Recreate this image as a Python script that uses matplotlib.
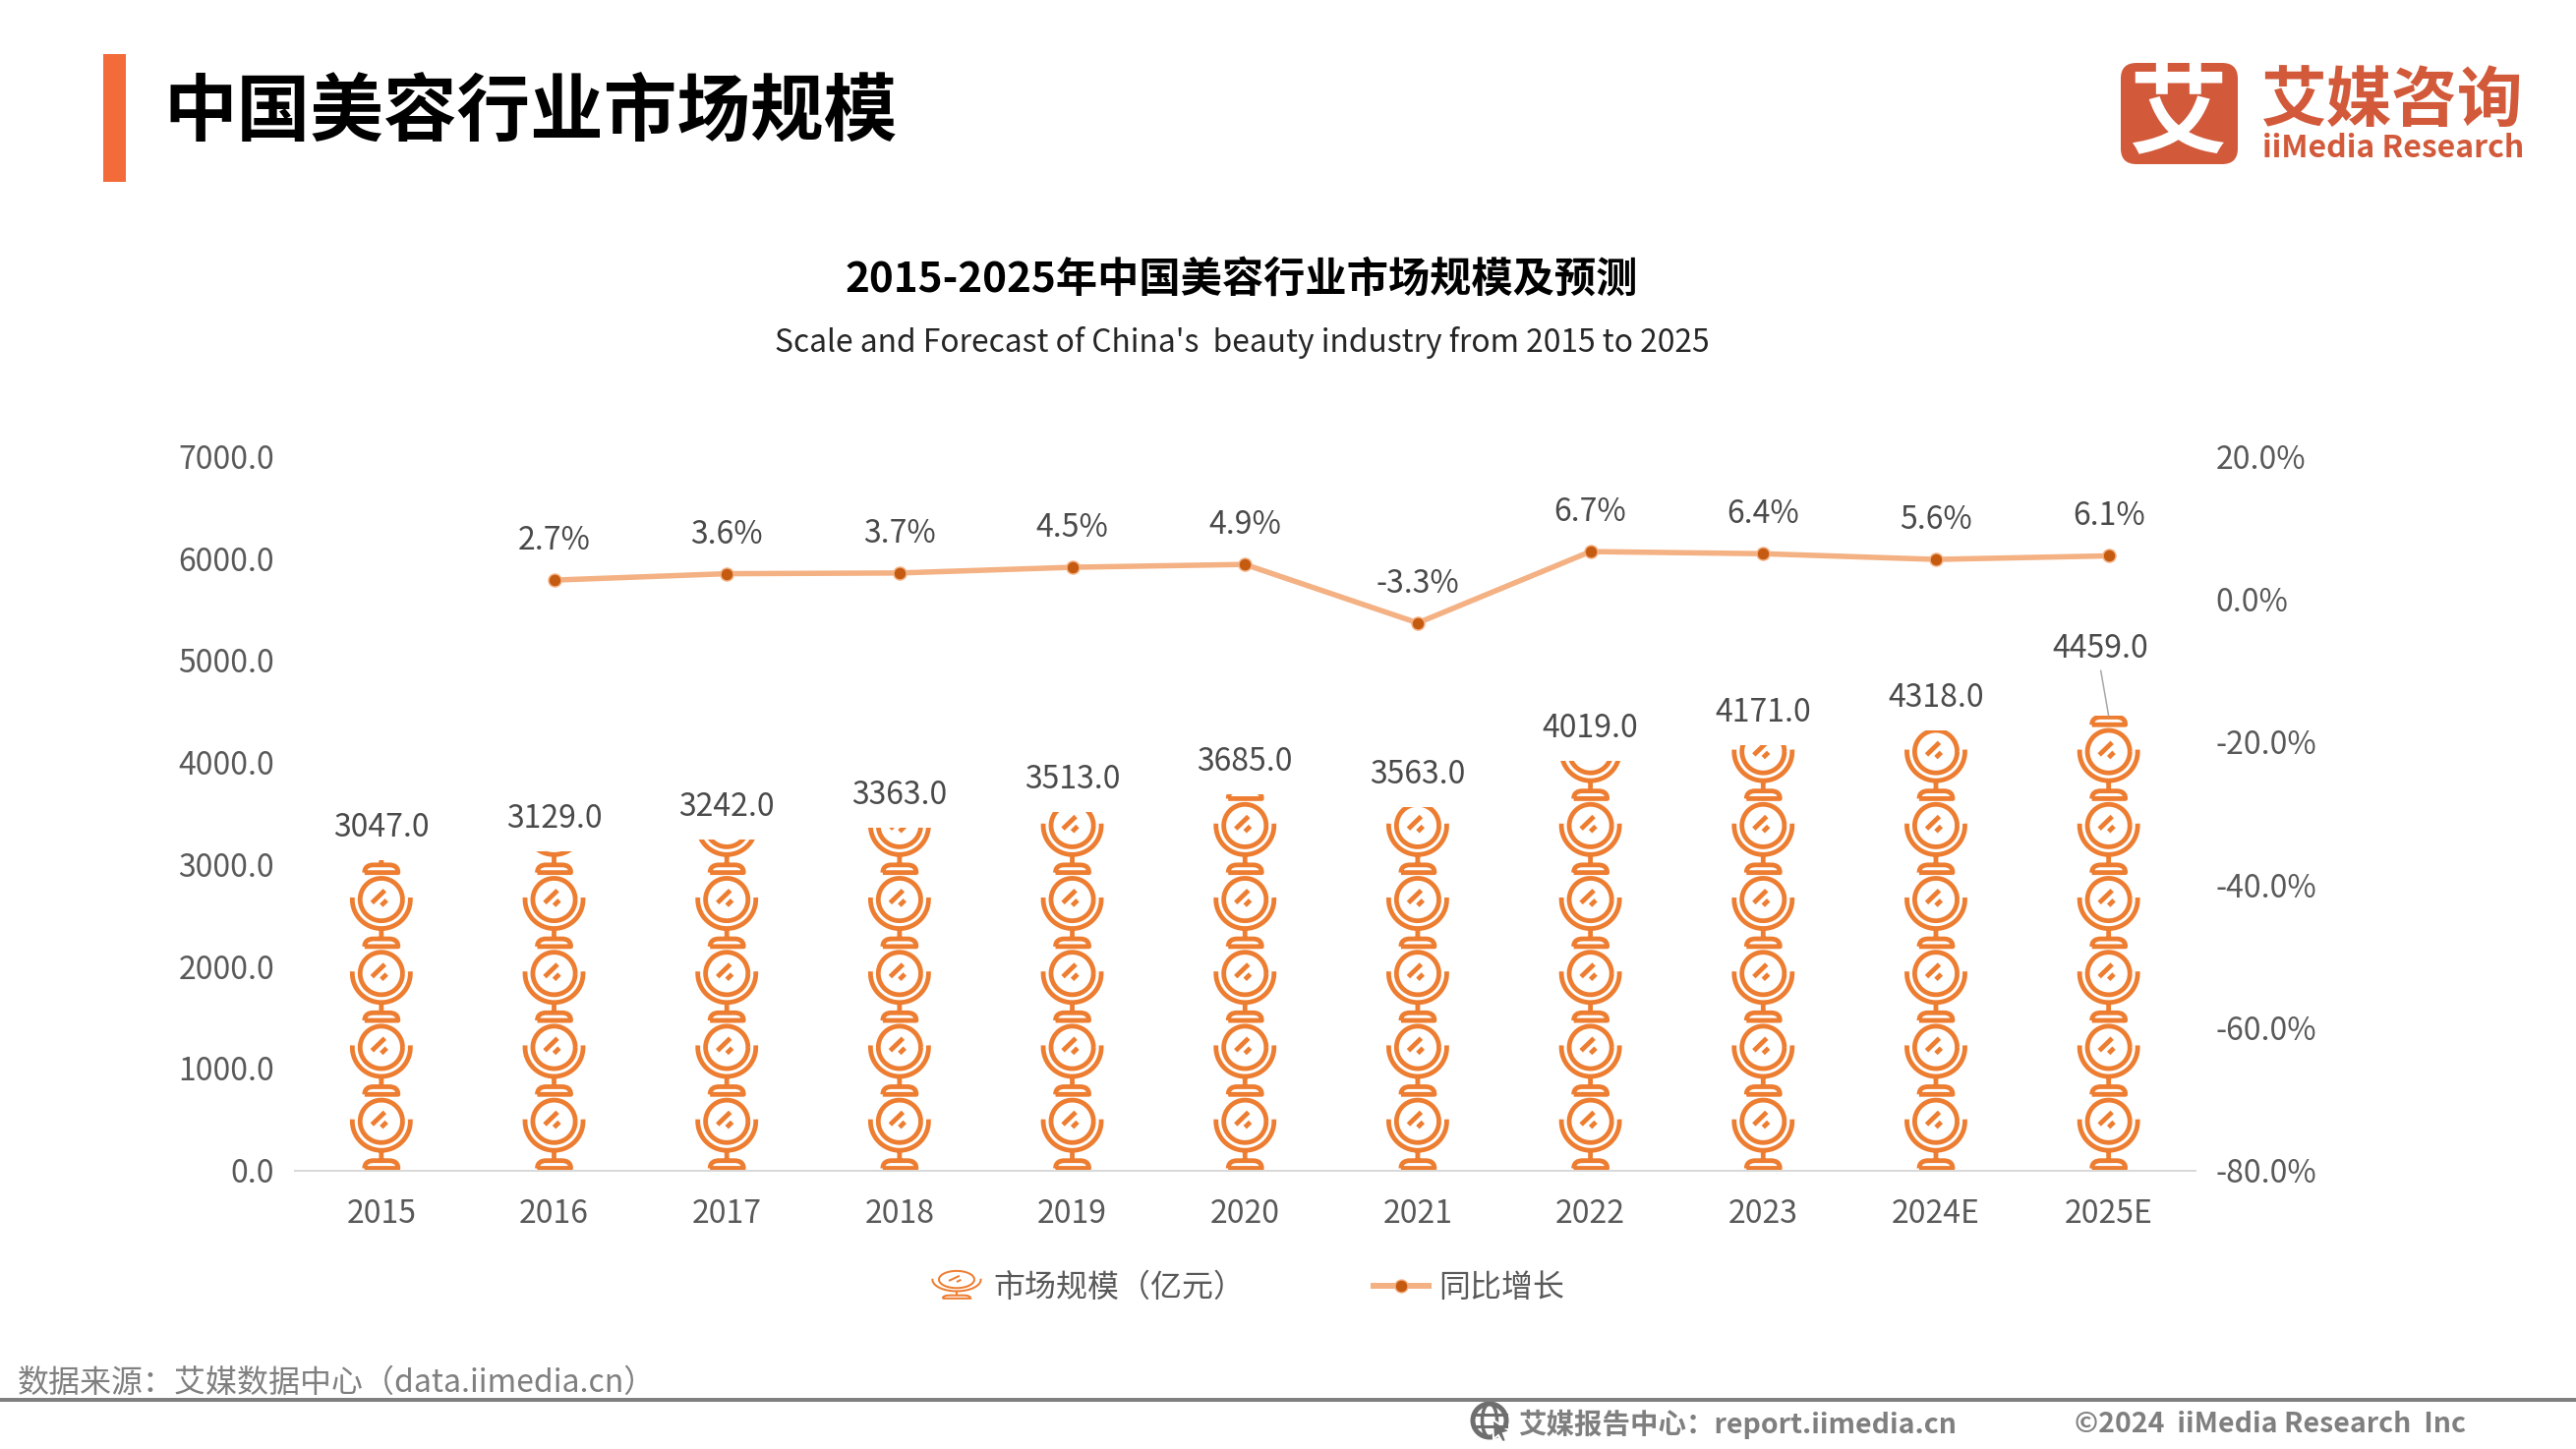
import numpy as np
import matplotlib
matplotlib.use("Agg")
import matplotlib.pyplot as plt
from matplotlib.lines import Line2D
from matplotlib.patches import Ellipse, FancyBboxPatch, Patch, PathPatch, Rectangle, Circle, Polygon
from matplotlib.path import Path
from matplotlib.transforms import Affine2D
from matplotlib.legend_handler import HandlerBase

plt.rcParams['font.family'] = ['Noto Sans CJK SC', 'DejaVu Sans']

years = ["2015", "2016", "2017", "2018", "2019", "2020", "2021", "2022", "2023", "2024E", "2025E"]
market_size = [3047.0, 3129.0, 3242.0, 3363.0, 3513.0, 3685.0, 3563.0, 4019.0, 4171.0, 4318.0, 4459.0]
growth = [np.nan, 2.7, 3.6, 3.7, 4.5, 4.9, -3.3, 6.7, 6.4, 5.6, 6.1]
left_ticks = [0, 1000, 2000, 3000, 4000, 5000, 6000, 7000]
right_ticks = [-80, -60, -40, -20, 0, 20]

W, H = 2620, 1474
PX = 0.72  # pixels -> points at dpi 100
ORANGE = "#ED7D31"
LINE_COLOR = "#F4B183"
DOT_COLOR = "#C55A11"
GREY = "#7F7F7F"
UNIT = 725  # value of one mirror icon


def arc(r, a0, a1, cy=50):
    t = np.radians(np.linspace(a0, a1, 60))
    return np.column_stack([r * np.cos(t), cy + r * np.sin(t)])


def to_path(pts):
    codes = [Path.MOVETO] + [Path.LINETO] * (len(pts) - 1)
    return Path(pts, codes)


# mirror icon, in pixels from the bottom centre of one 75px cell
dome = Path([(-17, 2.2), (-17, 8), (-13, 10), (-8, 10), (8, 10), (13, 10), (17, 8), (17, 2.2), (-17, 2.2)],
            [Path.MOVETO, Path.CURVE4, Path.CURVE4, Path.CURVE4, Path.LINETO,
             Path.CURVE4, Path.CURVE4, Path.CURVE4, Path.LINETO])
stem = to_path(np.array([(0, 10), (0, 20)]))
cradle = to_path(arc(29.5, 176, 364))
ring = to_path(arc(21.6, 0, 360))
mark_a = to_path(np.array([(-9.5, 46.7), (3.5, 59.3)]))
mark_b = to_path(np.array([(0, 44), (5.4, 49.3)]))
mirror = Path.make_compound_path(dome, stem, cradle, ring, mark_a, mark_b)


class MirrorHandler(HandlerBase):
    def create_artists(self, legend, orig_handle, xdescent, ydescent, width, height, fontsize, trans):
        tr = Affine2D().scale(0.6, 0.29).translate(width / 2 - xdescent, height / 2 - ydescent - 10) + trans
        p = PathPatch(mirror, transform=tr, fill=False, edgecolor=ORANGE, lw=2.0 * PX)
        return [p]


fig = plt.figure(figsize=(W / 100, H / 100), dpi=100, facecolor="white")

# page decoration, laid out in pixels
page = fig.add_axes([0, 0, 1, 1])
page.set_xlim(0, W)
page.set_ylim(H, 0)
page.axis("off")

page.add_patch(Rectangle((105, 55), 23, 130, color="#F26B38", lw=0))
page.text(166, 116, "中国美容行业市场规模", fontsize=53.7, weight="bold", color="black", va="center")
page.text(1263, 285, "2015-2025年中国美容行业市场规模及预测", fontsize=30.4, weight="bold",
          color="black", ha="center", va="center")
page.text(1263, 348, "Scale and Forecast of China's  beauty industry from 2015 to 2025", fontsize=22.9,
          color="#262626", ha="center", va="center")

# logo
page.add_patch(FancyBboxPatch((2169, 76), 95, 79, boxstyle="round,pad=12,rounding_size=16", color="#D2593A", lw=0))
page.text(2216, 118, "艾", fontsize=72, weight="bold", color="white", ha="center", va="center")
page.text(2433, 103, "艾媒咨询", fontsize=48, weight="bold", color="#D2593A", ha="center", va="center")
page.text(2434, 151, "iiMedia Research", fontsize=23, weight="bold", color="#D2593A", ha="center", va="center")

# footer
page.plot([0, W], [1424, 1424], color=GREY, lw=4 * PX, solid_capstyle="butt")
page.text(18, 1407, "数据来源：艾媒数据中心（data.iimedia.cn）", fontsize=23, color=GREY, va="center")
page.text(1544, 1449, "艾媒报告中心：report.iimedia.cn", fontsize=20.5, weight="bold", color=GREY, va="center")
page.text(2110, 1449, "©2024  iiMedia Research  Inc", fontsize=20.5, weight="bold", color=GREY, va="center")
page.add_patch(Circle((1515, 1445), 17, fill=False, edgecolor="#6E6E6E", lw=5 * PX))
page.add_patch(Ellipse((1515, 1445), 15, 34, fill=False, edgecolor="#6E6E6E", lw=3.5 * PX))
page.plot([1498, 1532], [1439, 1439], color="#6E6E6E", lw=3 * PX)
page.plot([1498, 1532], [1451, 1451], color="#6E6E6E", lw=3 * PX)
page.add_patch(Polygon([(1518, 1444), (1536, 1456), (1529, 1458), (1532, 1466), (1528, 1467), (1524, 1460), (1519, 1464)],
                       facecolor="#6E6E6E", edgecolor="white", lw=2 * PX))

# chart
ax = fig.add_axes([300 / W, (H - 1190.7) / H, (2232.5 - 300) / W, 726.2 / H])
ax.patch.set_alpha(0)
ax.set_xlim(-0.5, len(years) - 0.5)
ax.set_ylim(0, 7000)
ax.set_xticks(range(len(years)))
ax.set_xticklabels(years)
ax.set_yticks(left_ticks)
ax.set_yticklabels([f"{v:.1f}" for v in left_ticks])
ax.tick_params(axis="both", length=0, labelsize=23, labelcolor="#595959")
ax.tick_params(axis="x", pad=20.5)
ax.tick_params(axis="y", pad=15)
for s in ["top", "left", "right"]:
    ax.spines[s].set_visible(False)
ax.spines["bottom"].set_color("#D9D9D9")
ax.spines["bottom"].set_linewidth(2 * PX)

sx = (len(years)) / (2232.5 - 300)
sy = 7000 / 726.2
for i, value in enumerate(market_size):
    clip = Rectangle((i - 0.5, 0), 1, value, transform=ax.transData)
    for k in range(int(value // UNIT) + 1):
        tr = Affine2D().scale(sx, sy).translate(i, k * UNIT) + ax.transData
        icon = PathPatch(mirror, transform=tr, fill=False, edgecolor=ORANGE, lw=4.8 * PX,
                         capstyle="butt", joinstyle="round")
        ax.add_patch(icon)
        icon.set_clip_path(clip)
    if i == len(years) - 1:
        ax.annotate(f"{value:.1f}", (i, value), xytext=(-8 * PX, 68 * PX), textcoords="offset points",
                    ha="center", va="center", fontsize=23, color="#4A4A4A")
        ax.annotate("", (i, value), xytext=(-8 * PX, 46 * PX), textcoords="offset points",
                    arrowprops=dict(arrowstyle="-", color="#A6A6A6", lw=1.5 * PX, shrinkA=0, shrinkB=0))
    else:
        ax.annotate(f"{value:.1f}", (i, value), xytext=(0, 33 * PX), textcoords="offset points",
                    ha="center", va="center", fontsize=23, color="#4A4A4A")

ax2 = ax.twinx()
ax2.patch.set_alpha(0)
ax2.set_ylim(-80, 20)
ax2.set_yticks(right_ticks)
ax2.set_yticklabels([f"{v:.1f}%" for v in right_ticks])
ax2.tick_params(axis="y", length=0, labelsize=23, labelcolor="#595959", pad=15)
for s in ax2.spines.values():
    s.set_visible(False)
ax2.plot(range(len(years)), growth, color=LINE_COLOR, lw=5.5 * PX, marker="o", markersize=13 * PX,
         markerfacecolor=DOT_COLOR, markeredgecolor=LINE_COLOR, markeredgewidth=1.5 * PX, solid_capstyle="round")
for i, g in enumerate(growth):
    if not np.isnan(g):
        ax2.annotate(f"{g:.1f}%", (i, g), xytext=(0, 40 * PX), textcoords="offset points",
                     ha="center", va="center", fontsize=23, color="#4A4A4A")

handles = [Patch(label="市场规模（亿元）"),
           Line2D([], [], color=LINE_COLOR, lw=6 * PX, marker="o", markersize=13 * PX,
                  markerfacecolor=DOT_COLOR, markeredgecolor=LINE_COLOR, label="同比增长")]
fig.legend(handles=handles, handler_map={Patch: MirrorHandler()}, loc="center", ncol=2, frameon=False,
           bbox_to_anchor=(1268 / W, (H - 1310) / H), fontsize=23, labelcolor="#595959",
           handlelength=1.75, handletextpad=0.3, columnspacing=4.1)

fig.savefig("out.png", dpi=100)
